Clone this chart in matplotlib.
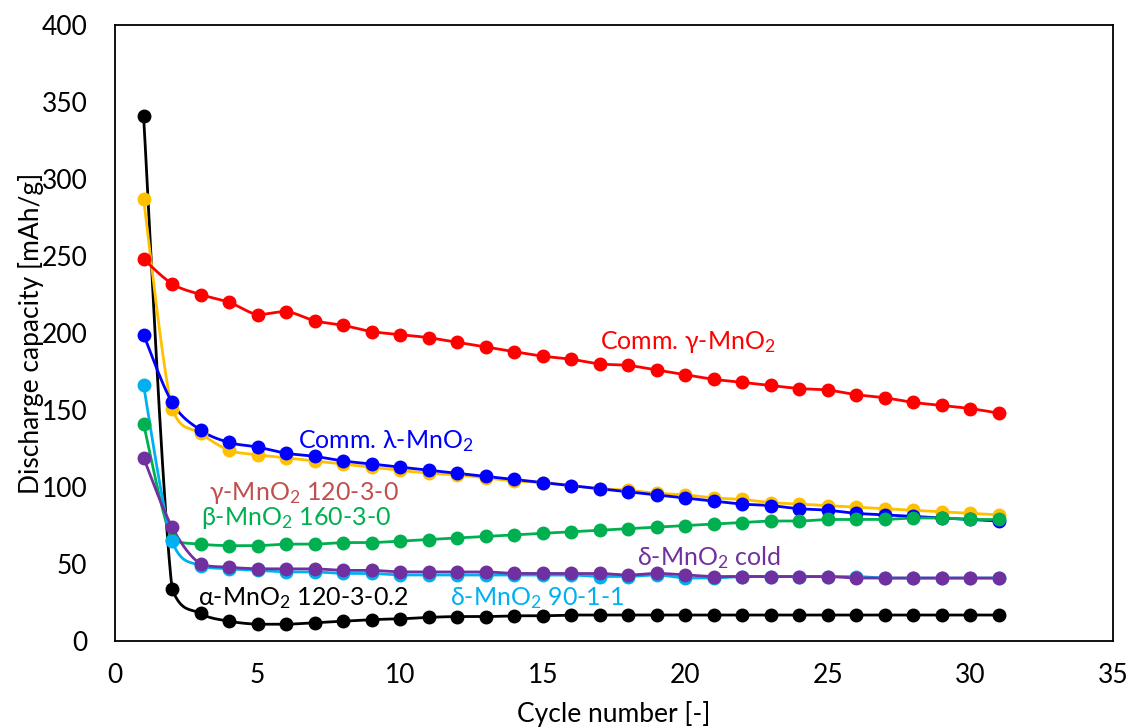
import numpy as np
import matplotlib
matplotlib.use("Agg")
import matplotlib.pyplot as plt

plt.rcParams['font.family'] = ['Lato', 'DejaVu Sans']
plt.rcParams['mathtext.fontset'] = 'custom'
plt.rcParams['mathtext.rm'] = 'Lato'
plt.rcParams['mathtext.default'] = 'regular'

cycles = np.arange(1, 32)

alpha_120_3_02 = [341, 34, 18, 13, 11, 11, 12, 13, 14, 14.5, 15.5, 16, 16, 16.5, 16.5, 17, 17, 17, 17, 17,
                  17, 17, 17, 17, 17, 17, 17, 17, 17, 17, 17]
gamma_120_3_0 = [287, 151, 135, 124, 121, 119, 117, 115, 113, 111, 109, 108, 106, 104, 103, 101, 99, 98, 96, 95,
                 93, 92, 90, 89, 88, 87, 86, 85, 84, 83, 82]
comm_gamma = [248, 232, 225, 220, 212, 214, 208, 205, 201, 199, 197, 194, 191, 188, 185, 183, 180, 179, 176, 173,
              170, 168, 166, 164, 163, 160, 158, 155, 153, 151, 148]
comm_lambda = [199, 155, 137, 129, 126, 122, 120, 117, 115, 113, 111, 109, 107, 105, 103, 101, 99, 97, 95, 93,
               91, 89, 88, 86, 85, 83, 82, 81, 80, 79, 78]
beta_160_3_0 = [141, 66, 63, 62, 62, 63, 63, 64, 64, 65, 66, 67, 68, 69, 70, 71, 72, 73, 74, 75,
                76, 77, 78, 78, 79, 79, 79, 80, 80, 79, 79]
delta_90_1_1 = [166, 65, 49, 47, 46, 45, 45, 44, 44, 43, 43, 43, 43, 43, 43, 43, 42, 42, 43, 41,
                41, 42, 42, 42, 42, 42, 41, 41, 41, 41, 41]
delta_cold = [119, 74, 50, 48, 47, 47, 47, 46, 46, 45, 45, 45, 45, 44, 44, 44, 44, 43, 44, 43,
              42, 42, 42, 42, 42, 41, 41, 41, 41, 41, 41]


def smooth(x, y, n=20):
    # bezier through the points, control points kept inside each segment (no overshoot)
    x = np.asarray(x, float)
    y = np.asarray(y, float)
    xs, ys = [], []
    for i in range(len(x) - 1):
        x0, y0 = (x[i - 1], y[i - 1]) if i > 0 else (x[i], y[i])
        x3, y3 = (x[i + 2], y[i + 2]) if i + 2 < len(x) else (x[i + 1], y[i + 1])
        p1 = np.array([x[i], y[i]])
        p2 = np.array([x[i + 1], y[i + 1]])
        c1 = p1 + (p2 - np.array([x0, y0])) / 6
        c2 = p2 - (np.array([x3, y3]) - p1) / 6
        lo, hi = min(p1[1], p2[1]), max(p1[1], p2[1])
        c1[1] = np.clip(c1[1], lo, hi)
        c2[1] = np.clip(c2[1], lo, hi)
        t = np.linspace(0, 1, n, endpoint=False)[:, None]
        b = (1 - t) ** 3 * p1 + 3 * (1 - t) ** 2 * t * c1 + 3 * (1 - t) * t ** 2 * c2 + t ** 3 * p2
        xs.extend(b[:, 0])
        ys.extend(b[:, 1])
    xs.append(x[-1])
    ys.append(y[-1])
    return xs, ys


series = [
    (alpha_120_3_02, 'black'),
    (gamma_120_3_0, '#FFC000'),
    (comm_gamma, '#FF0000'),
    (comm_lambda, '#0000FF'),
    (beta_160_3_0, '#00B050'),
    (delta_90_1_1, '#00B0F0'),
    (delta_cold, '#7030A0'),
]

fig = plt.figure(figsize=(11.3, 7.27), dpi=100)
ax = fig.add_axes([0.1018, 0.118, 0.8832, 0.8477])

for vals, col in series:
    sx, sy = smooth(cycles, vals)
    ax.plot(sx, sy, color=col, lw=2.0, zorder=2)
    ax.plot(cycles, vals, 'o', color=col, ms=9, zorder=3)

fs = 18
ax.text(17.0, 194, r'Comm. γ-MnO$_2$', color='#FF0000', fontsize=fs, va='center')
ax.text(6.4, 130, r'Comm. λ-MnO$_2$', color='#0000FF', fontsize=fs, va='center')
ax.text(3.3, 96, r'γ-MnO$_2$ 120-3-0', color='#C0504D', fontsize=fs, va='center')
ax.text(3.0, 80, r'β-MnO$_2$ 160-3-0', color='#00B050', fontsize=fs, va='center')
ax.text(18.3, 54.5, r'δ-MnO$_2$ cold', color='#7030A0', fontsize=fs, va='center')
ax.text(2.9, 28, r'α-MnO$_2$ 120-3-0.2', color='black', fontsize=fs, va='center')
ax.text(11.75, 28, r'δ-MnO$_2$ 90-1-1', color='#00B0F0', fontsize=fs, va='center')

ax.set_xlim(0, 35)
ax.set_ylim(0, 400)
ax.set_xticks(np.arange(0, 36, 5))
ax.set_yticks(np.arange(0, 401, 50))
ax.tick_params(length=0, labelsize=19)
ax.tick_params(axis='x', pad=16)
ax.tick_params(axis='y', pad=20)
for s in ax.spines.values():
    s.set_color('black')
    s.set_linewidth(1.3)
ax.set_xlabel('Cycle number [-]', fontsize=19, va='center')
ax.set_ylabel('Discharge capacity [mAh/g]', fontsize=19, va='center')
ax.xaxis.set_label_coords(0.5, -0.118)
ax.yaxis.set_label_coords(-0.084, 0.5)

fig.savefig('out.png', dpi=100)
